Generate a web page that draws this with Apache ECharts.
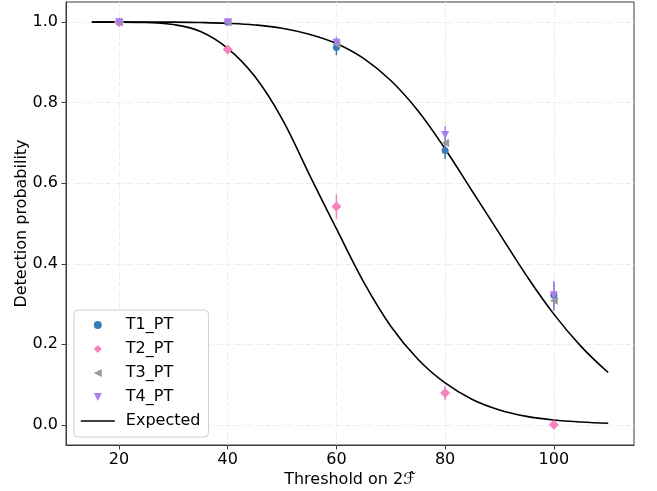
<!DOCTYPE html>
<html><head><meta charset="utf-8">
<script src="https://cdn.jsdelivr.net/npm/echarts@6/dist/echarts.min.js"></script>
<style>html,body{margin:0;padding:0;background:#fff}#c{width:657px;height:491px}</style>
</head><body><div id="c"></div>
<script>
// ---- data ----
const thresholds = [20, 40, 60, 80, 100];
const t1Values = [1.0, 1.0, 0.937, 0.681, 0.322];
const t1Errors = [0, 0, 0.019, 0.021, 0.03];
const t2Values = [1.0, 0.932, 0.542, 0.079, 0.0];
const t2Errors = [0, 0.006, 0.031, 0.018, 0];
const t3Values = [1.0, 1.0, 0.945, 0.70, 0.308];
const t3Errors = [0, 0, 0.015, 0.02, 0.025];
const t4Values = [1.0, 1.0, 0.949, 0.72, 0.322];
const t4Errors = [0, 0, 0.015, 0.022, 0.035];
const expectedX = [15, 20, 25, 30, 35, 40, 45, 50, 55, 60, 65, 70, 75, 80, 85, 90, 95, 100, 105, 110];
const expectedLow = [1.0, 1.0, 0.999, 0.994, 0.977, 0.935, 0.865, 0.76, 0.622, 0.487, 0.355, 0.245, 0.163, 0.104, 0.063, 0.037, 0.021, 0.012, 0.007, 0.004];
const expectedHigh = [1.0, 1.0, 1.0, 1.0, 0.999, 0.997, 0.993, 0.985, 0.97, 0.947, 0.91, 0.855, 0.78, 0.685, 0.58, 0.475, 0.37, 0.275, 0.195, 0.13];
const xTicks = [20, 40, 60, 80, 100];
const yTicks = [0, 0.2, 0.4, 0.6, 0.8, 1.0];
const seriesNames = ['T1_PT', 'T2_PT', 'T3_PT', 'T4_PT'];
const expectedName = 'Expected';

const FONT = 'DejaVu Sans';
const colors = ['#377eb8', '#f781bf', '#999999', '#ad7df0'];
const symbols = ['circle', 'diamond', 'triangle', 'triangle'];
const rotations = [0, 0, 90, 180];
const sizes = [7, 10, 8, 8];
const valueSets = [t1Values, t2Values, t3Values, t4Values];
const errorSets = [t1Errors, t2Errors, t3Errors, t4Errors];

const series = [];
valueSets.forEach((vals, k) => {
  const errs = errorSets[k];
  const color = colors[k];
  series.push({
    type: 'custom',
    name: seriesNames[k] + ' error',
    silent: true,
    encode: { x: 0, y: [1, 2] },
    data: thresholds.map((x, i) => [x, vals[i] - errs[i], vals[i] + errs[i]]),
    renderItem: function (params, api) {
      const p1 = api.coord([api.value(0), api.value(1)]);
      const p2 = api.coord([api.value(0), api.value(2)]);
      return { type: 'line', shape: { x1: p1[0], y1: p1[1], x2: p2[0], y2: p2[1] },
               style: { stroke: color, lineWidth: 1.5 } };
    }
  });
  series.push({
    type: 'line',
    name: seriesNames[k],
    data: thresholds.map((x, i) => [x, vals[i]]),
    symbol: symbols[k],
    symbolSize: sizes[k],
    symbolRotate: rotations[k],
    showSymbol: true,
    showAllSymbol: true,
    lineStyle: { width: 0, opacity: 0 },
    itemStyle: { color: color },
    emphasis: { disabled: true },
    silent: true
  });
});
[expectedLow, expectedHigh].forEach(vals => {
  series.push({
    type: 'line',
    name: expectedName,
    data: expectedX.map((x, i) => [x, vals[i]]),
    symbol: 'none',
    smooth: 0.4,
    lineStyle: { color: '#000', width: 1.6 },
    itemStyle: { color: '#000' },
    z: 3,
    silent: true
  });
});

const gridLine = { show: true, lineStyle: { color: '#e6e6e6', width: 0.8, type: [5, 2, 1, 2] } };
const axisCol = '#3a3a3a';

const option = {
  animation: false,
  backgroundColor: '#fff',
  grid: { left: 66, right: 23, top: 2, bottom: 46, containLabel: false, outerBoundsMode: 'none',
          show: true, borderColor: axisCol, borderWidth: 1, backgroundColor: 'transparent' },
  xAxis: {
    type: 'value', min: 10.25, max: 114.75,
    name: 'Threshold on 2\u2131\u0302', nameLocation: 'middle', nameGap: 27, nameMoveOverlap: false,
    nameTextStyle: { fontFamily: FONT, fontSize: 16, color: '#000' },
    axisLine: { show: true, onZero: false, lineStyle: { color: axisCol, width: 1 } },
    axisTick: { show: true, inside: false, length: 4.5, customValues: xTicks, lineStyle: { color: axisCol } },
    axisLabel: { customValues: xTicks, margin: 7, fontFamily: FONT, fontSize: 16, color: '#000' },
    splitLine: gridLine
  },
  yAxis: {
    type: 'value', min: -0.05, max: 1.05,
    name: 'Detection probability', nameLocation: 'middle', nameGap: 36, nameRotate: 90, nameMoveOverlap: false,
    nameTextStyle: { fontFamily: FONT, fontSize: 16, color: '#000' },
    axisLine: { show: true, onZero: false, lineStyle: { color: axisCol, width: 1 } },
    axisTick: { show: true, inside: false, length: 4.5, customValues: yTicks, lineStyle: { color: axisCol } },
    axisLabel: { customValues: yTicks, margin: 8, fontFamily: FONT, fontSize: 16, color: '#000',
                 formatter: v => v.toFixed(1) },
    splitLine: gridLine
  },
  legend: {
    orient: 'vertical', left: 74, top: 310,
    padding: [6, 8, 7, 6],
    itemWidth: 34, itemHeight: 10, itemGap: 6,
    borderColor: '#d0d0d0', borderWidth: 1, borderRadius: 4,
    backgroundColor: 'rgba(255,255,255,0.85)',
    textStyle: { fontFamily: FONT, fontSize: 16, color: '#000', lineHeight: 18, padding: [0, 0, 0, 6] },
    data: [
      { name: seriesNames[0], lineStyle: { opacity: 0 } },
      { name: seriesNames[1], lineStyle: { opacity: 0 } },
      { name: seriesNames[2], lineStyle: { opacity: 0 } },
      { name: seriesNames[3], lineStyle: { opacity: 0 } },
      { name: expectedName, itemStyle: { opacity: 0 }, lineStyle: { width: 1.6, color: '#000' } }
    ],
    selectedMode: false
  },
  series: series
};
const chart = echarts.init(document.getElementById('c'), null, { renderer: 'canvas' });
chart.setOption(option);
</script>
</body></html>
